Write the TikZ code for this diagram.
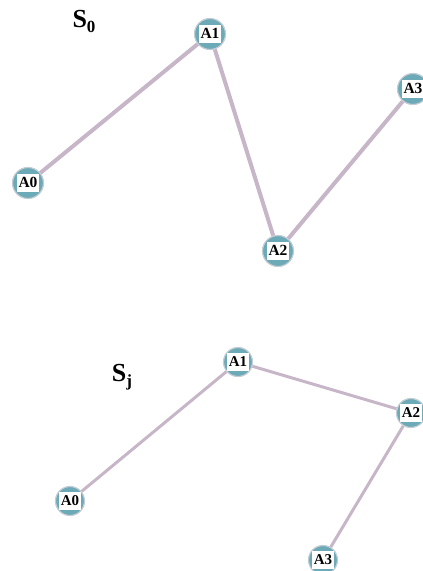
\documentclass[tikz,border=0pt]{standalone}
\usepackage{fontspec}
\setmainfont{Liberation Serif}
\usepackage{tikz}
\usetikzlibrary{positioning}
\definecolor{agentteal}{HTML}{6BAAB6}
\definecolor{agentring}{HTML}{C4CCD4}
\definecolor{linkmauve}{HTML}{C6B6C8}
\newcommand{\tagbox}[1]{{\setlength{\fboxsep}{1.4pt}\colorbox{white}{\rule[-3pt]{0pt}{15pt}#1}}}
\tikzset{
	agent/.style={circle, fill=agentteal, draw=agentring, line width=1.2pt, inner sep=0pt, minimum size=31pt, font=\fontsize{15.5}{16}\selectfont\bfseries},
	small agent/.style={agent, minimum size=29pt, font=\fontsize{15}{16}\selectfont\bfseries},
	link/.style={draw=linkmauve, line width=4pt},
	thin link/.style={draw=linkmauve, line width=3pt},
	statename/.style={inner sep=0pt, font=\fontsize{26}{28}\selectfont\bfseries}
}

\begin{document}
\begin{tikzpicture}[x=1pt, y=-1pt]
		\path[use as bounding box, clip] (0,0) rectangle (423,571);
		\node[statename] (szero) at (84,21) {S\raisebox{-5pt}{\fontsize{17}{17}\selectfont 0}};
		\node[agent] (ta0) at (28,183) {\tagbox{A0}};
		\node[agent] (ta1) at (210,34) {\tagbox{A1}};
		\node[agent] (ta2) at (278,251) {\tagbox{A2}};
		\node[agent] (ta3) at (413,89) {\tagbox{A3}};
		\draw[link] (ta0) -- (ta1);
		\draw[link] (ta1) -- (ta2);
		\draw[link] (ta2) -- (ta3);
		\node[statename] (sj) at (122,377) {S\raisebox{-5pt}{\fontsize{17}{17}\selectfont j}};
		\node[small agent] (ba0) at (70,501) {\tagbox{A0}};
		\node[small agent] (ba1) at (238,362) {\tagbox{A1}};
		\node[small agent] (ba2) at (411,413) {\tagbox{A2}};
		\node[small agent] (ba3) at (323,560) {\tagbox{A3}};
		\draw[thin link] (ba0) -- (ba1);
		\draw[thin link] (ba1) -- (ba2);
		\draw[thin link] (ba2) -- (ba3);
	\end{tikzpicture}
\end{document}
